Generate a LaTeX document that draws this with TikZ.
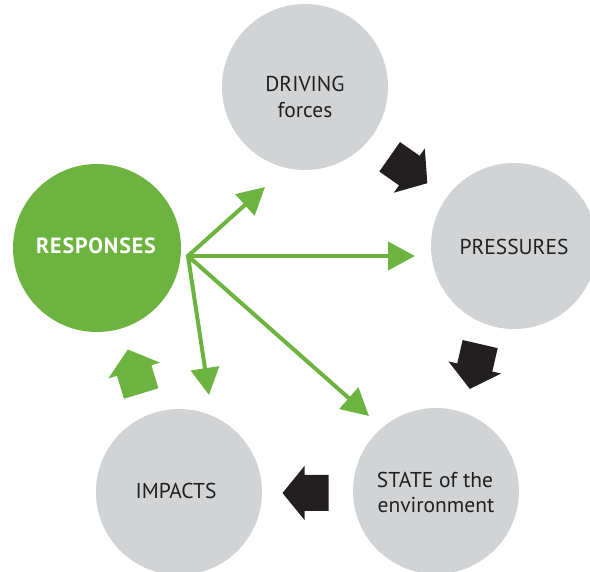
\documentclass[tikz,border=0pt]{standalone}
\usepackage{fontspec}
\setmainfont{PT Sans}
\usetikzlibrary{arrows.meta}
\definecolor{cgray}{RGB}{209,211,212}
\definecolor{cgreen}{RGB}{109,179,63}
\definecolor{ctext}{RGB}{35,31,32}
\newcommand{\blkarrow}[3]{%
  \fill[#1,shift={(#2)},rotate=#3] (-23,-18) -- (1,-18) -- (1,-27) -- (23,0) -- (1,27) -- (1,18) -- (-23,18) -- cycle;}
\begin{document}
\begin{tikzpicture}[x=1pt,y=-1pt,
  circ/.style={circle,fill=cgray,minimum size=166pt,inner sep=0pt},
  lbl/.style={anchor=base,text=ctext,font=\fontsize{21.5}{26}\selectfont,inner sep=0pt},
  ray/.style={draw=cgreen,line width=4pt,line cap=round,-{Triangle[length=27pt,width=28pt]}}]
\useasboundingbox (0,0) rectangle (590,572);
\clip (0,0) rectangle (590,572);
\fill[white] (0,0) rectangle (590,572);
% circles
\node[circ] (D) at (305,87) {};
\node[circ] (P) at (514,246) {};
\node[circ] (S) at (436,491) {};
\node[circ] (I) at (179,492) {};
\node[circ,fill=cgreen,minimum size=168pt] (R) at (97,248) {};
% labels
\node[lbl] (D1) at (305,92) {DRIVING};
\node[lbl] (D2) at (305,118) {forces};
\node[lbl] (P1) at (514,255) {PRESSURES};
\node[lbl] (S1) at (435,488) {STATE of the};
\node[lbl] (S2) at (436,513) {environment};
\node[lbl] (I1) at (176,499) {IMPACTS};
\node[lbl,text=white,font=\fontsize{22}{26}\selectfont\bfseries\addfontfeatures{LetterSpace=4}] (R1) at (96,254) {RESPONSES};
% block arrows
\blkarrow{ctext}{408.5,170}{-35}
\blkarrow{ctext}{475,366.5}{-103}
\blkarrow{ctext}{305.5,493}{180}
\blkarrow{cgreen}{134.5,371.5}{107}
% green rays
\coordinate (o) at (188,256);
\coordinate (tD) at (265,187);
\coordinate (tP) at (415,256);
\coordinate (tI) at (209,395);
\coordinate (tS) at (369,416);
\draw[ray] (o) -- (tD);
\draw[ray] (o) -- (tP);
\draw[ray] (o) -- (tI);
\draw[ray] (o) -- (tS);
\end{tikzpicture}
\end{document}
